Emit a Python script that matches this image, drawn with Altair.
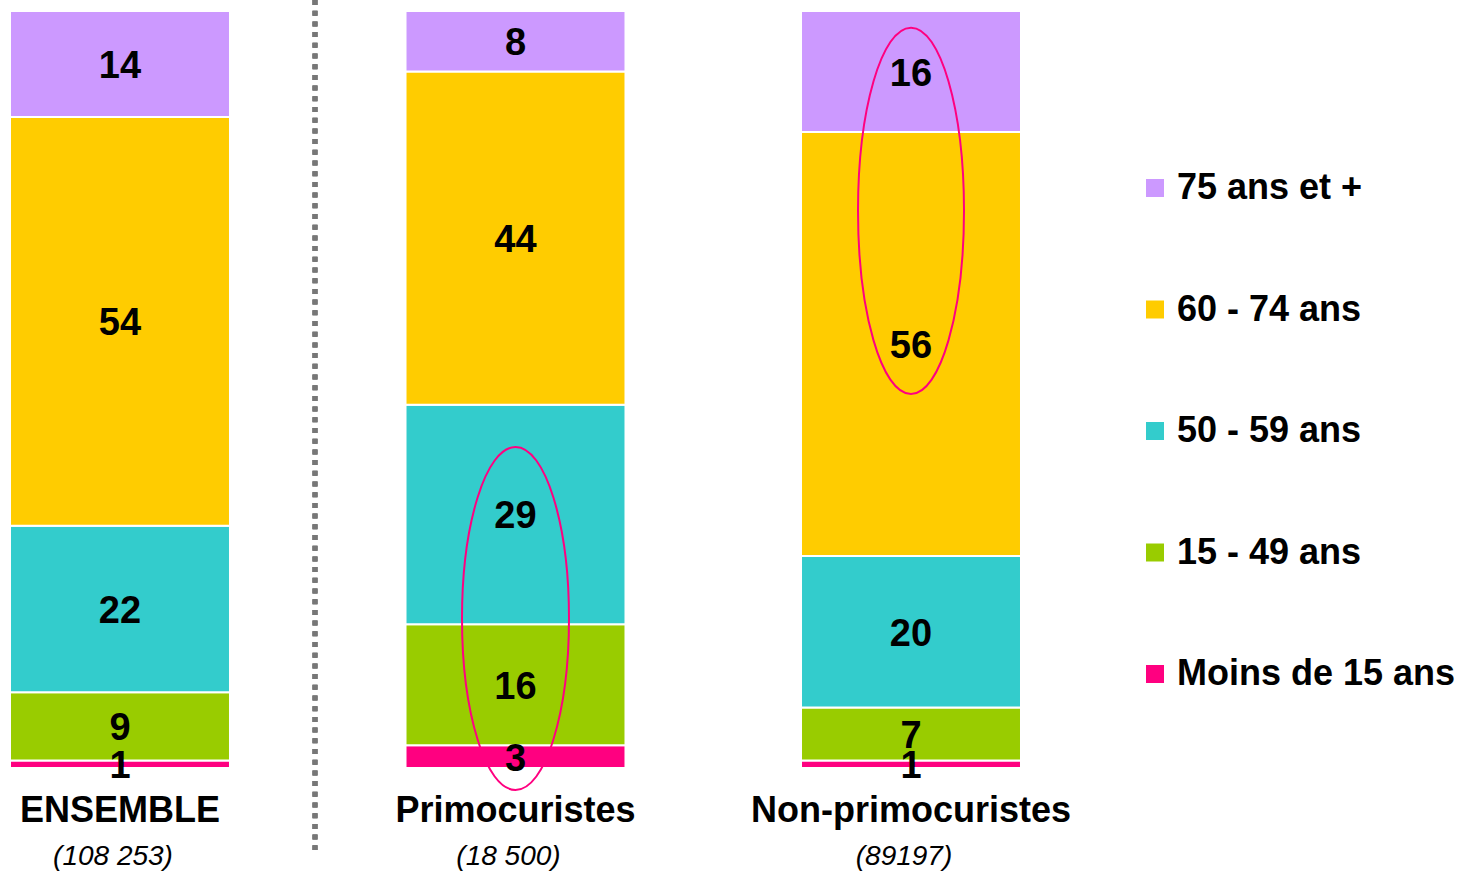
import altair as alt
import pandas as pd

# Age distribution (%) of patients, by group
groups = ["ENSEMBLE", "Primocuristes", "Non-primocuristes"]
group_counts = ["(108 253)", "(18 500)", "(89197)"]
age_bands = ["Moins de 15 ans", "15 - 49 ans", "50 - 59 ans", "60 - 74 ans", "75 ans et +"]  # bottom -> top
share_ensemble = [1, 9, 22, 54, 14]
share_primo = [3, 16, 29, 44, 8]
share_nonprimo = [1, 7, 20, 56, 16]
band_colors = ["#FF0080", "#99CC00", "#33CCCC", "#FFCC00", "#CC99FF"]

# Highlighted value ranges (group, lower %, upper %)
highlight_groups = ["Primocuristes", "Non-primocuristes"]
highlight_low = [-2.9, 49.4]
highlight_high = [42.4, 97.8]
highlight_width_px = [107, 106]

PLOT_W, PLOT_H = 1031, 757
FONT = "Liberation Sans"

rows = []
for g, shares in zip(groups, [share_ensemble, share_primo, share_nonprimo]):
    for rank, (band, v) in enumerate(zip(age_bands, shares)):
        rows.append({"groupe": g, "age": band, "rank": rank, "pct": v})
df = pd.DataFrame(rows)

labels_df = pd.DataFrame({"groupe": groups, "effectif": group_counts})

hl_rows = []
for g, lo, hi in zip(highlight_groups, highlight_low, highlight_high):
    hl_rows.append({"groupe": g, "centre": (lo + hi) / 2})
hl_df = pd.DataFrame(hl_rows)

x_enc = alt.X(
    "groupe:N",
    sort=groups,
    axis=None,
    scale=alt.Scale(paddingInner=0.4438, paddingOuter=0.0253),
)
y_scale = alt.Scale(domain=[0, 100], nice=False, zero=False)

base = alt.Chart(df).transform_stack(
    stack="pct", groupby=["groupe"], sort=[alt.SortField("rank", order="ascending")],
    as_=["y0", "y1"],
).transform_calculate(mid="(datum.y0 + datum.y1) / 2")

bars = base.mark_bar(stroke="white", strokeWidth=2).encode(
    x=x_enc,
    y=alt.Y("y0:Q", scale=y_scale, axis=None),
    y2="y1:Q",
    color=alt.Color(
        "age:N",
        scale=alt.Scale(domain=age_bands[::-1], range=band_colors[::-1]),
        legend=alt.Legend(
            title=None,
            orient="none",
            legendX=1137,
            legendY=159,
            symbolType="square",
            symbolSize=324,
            symbolStrokeWidth=0,
            labelFont=FONT,
            labelFontSize=36,
            labelFontWeight="bold",
            labelColor="black",
            labelOffset=4,
            rowPadding=85.5,
            labelLimit=400,
        ),
    ),
)

values = base.mark_text(
    font=FONT, fontSize=38, fontWeight="bold", color="black", baseline="middle", dy=3
).encode(
    x=x_enc,
    y=alt.Y("mid:Q", scale=y_scale, axis=None),
    text=alt.Text("pct:Q"),
)

names = alt.Chart(labels_df).mark_text(
    font=FONT, fontSize=36, fontWeight="bold", color="black", baseline="middle"
).encode(x=x_enc, y=alt.value(800), text="groupe:N")

counts = alt.Chart(labels_df).mark_text(
    font=FONT, fontSize=28, fontStyle="italic", color="black", baseline="middle", dx=-7
).encode(x=x_enc, y=alt.value(846), text="effectif:N")

# Dotted separator between the whole population and the two sub-groups
separator = alt.Chart(labels_df).mark_rule(
    color="#777777", strokeWidth=5, strokeDash=[5, 5.7]
).encode(x=alt.value(315), y=alt.value(-11), y2=alt.value(839))


def ellipse_path(rx):
    k = 0.5523
    return (
        f"M 0 -1 C {k*rx:.4f} -1 {rx:.4f} {-k:.4f} {rx:.4f} 0 "
        f"C {rx:.4f} {k:.4f} {k*rx:.4f} 1 0 1 "
        f"C {-k*rx:.4f} 1 {-rx:.4f} {k:.4f} {-rx:.4f} 0 "
        f"C {-rx:.4f} {-k:.4f} {-k*rx:.4f} -1 0 -1 Z"
    )


rings = []
for i, g in enumerate(highlight_groups):
    h_px = (highlight_high[i] - highlight_low[i]) / 100 * PLOT_H
    rx = highlight_width_px[i] / h_px
    rings.append(
        alt.Chart(hl_df[hl_df["groupe"] == g]).mark_point(
            shape=ellipse_path(rx), size=h_px ** 2, filled=False,
            stroke="#FF0080", strokeWidth=2, opacity=1,
        ).encode(x=x_enc, y=alt.Y("centre:Q", scale=y_scale, axis=None))
    )

chart = alt.layer(bars, values, names, counts, separator, *rings).properties(
    width=PLOT_W,
    height=PLOT_H,
    background="white",
    autosize=alt.AutoSizeParams(type="none"),
    padding={"left": 0, "top": 11, "right": 429, "bottom": 106},
).configure_view(strokeWidth=0, stroke="transparent")

chart.save("out.html", embed_options={"renderer": "svg", "actions": False})
